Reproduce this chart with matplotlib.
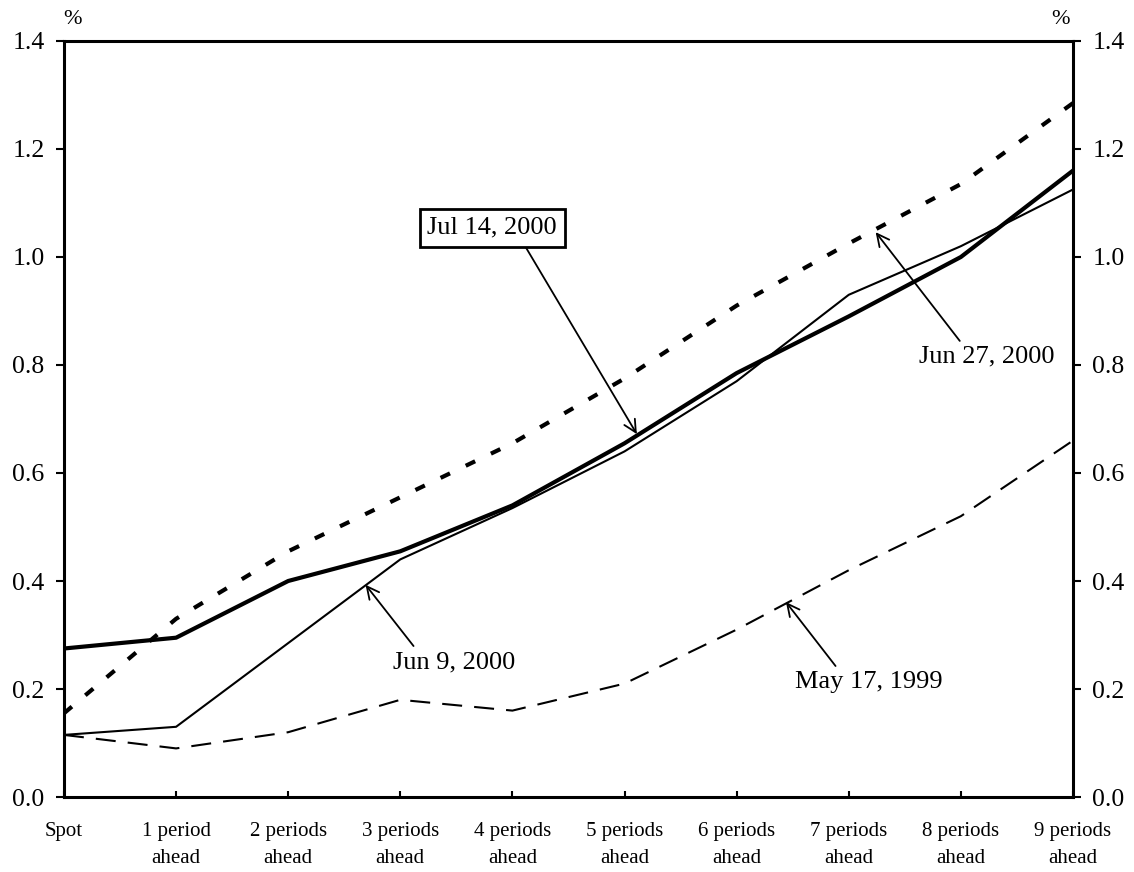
import matplotlib
matplotlib.use("Agg")
import matplotlib.pyplot as plt

plt.rcParams['font.family'] = ['Liberation Serif', 'DejaVu Serif']

# Horizon labels
categories = ["Spot", "1 period\nahead", "2 periods\nahead", "3 periods\nahead",
              "4 periods\nahead", "5 periods\nahead", "6 periods\nahead",
              "7 periods\nahead", "8 periods\nahead", "9 periods\nahead"]

# Implied rates by horizon (%)
jul14_2000 = [0.275, 0.295, 0.40, 0.455, 0.54, 0.655, 0.785, 0.89, 1.00, 1.16]
jun27_2000 = [0.155, 0.33, 0.455, 0.555, 0.655, 0.775, 0.91, 1.025, 1.135, 1.285]
jun9_2000 = [0.115, 0.13, 0.285, 0.44, 0.535, 0.64, 0.77, 0.93, 1.02, 1.125]
may17_1999 = [0.115, 0.09, 0.12, 0.18, 0.16, 0.21, 0.31, 0.42, 0.52, 0.66]

y_ticks = [0.0, 0.2, 0.4, 0.6, 0.8, 1.0, 1.2, 1.4]

fig = plt.figure(figsize=(11.34, 8.72), dpi=100)
ax = fig.add_axes([0.0564, 0.086, 0.8898, 0.867])

x = list(range(len(categories)))

ax.plot(x, may17_1999, color="black", lw=1.5, linestyle=(0, (9.6, 5.8)))
ax.plot(x, jun9_2000, color="black", lw=1.5)
ax.plot(x, jun27_2000, color="black", lw=3.0, linestyle=(0, (2.5, 4.2)))
ax.plot(x, jul14_2000, color="black", lw=3.0)

ax.set_xlim(0, len(categories) - 1)
ax.set_ylim(0, 1.4)
ax.set_yticks(y_ticks)
ax.set_yticklabels([f"{v:.1f}" for v in y_ticks])
ax.set_xticks(x)
ax.set_xticklabels(categories, fontsize=15, linespacing=1.6)

ax.tick_params(axis="y", which="both", direction="out", length=6, width=1.5,
               labelsize=18.5, pad=8, left=True, right=True,
               labelleft=True, labelright=True)
ax.tick_params(axis="x", direction="in", length=4.5, width=1.5, pad=18)

for side in ["left", "right", "top", "bottom"]:
    ax.spines[side].set_linewidth(2.2)
    ax.spines[side].set_color("black")

# Unit markers above each vertical axis
fig.text(73 / 1134, 1 - 20 / 872, "%", fontsize=16, ha="center", va="center")
fig.text(1061 / 1134, 1 - 20 / 872, "%", fontsize=16, ha="center", va="center")

arrow = dict(arrowstyle="->", color="black", lw=1.3,
             mutation_scale=22, shrinkA=2, shrinkB=0)

ax.annotate("Jul 14, 2000", xy=(5.11, 0.672), xytext=(3.82, 1.054),
            fontsize=19, ha="center", va="center",
            bbox=dict(boxstyle="square,pad=0.3", fc="white", ec="black", lw=2),
            arrowprops=dict(arrow, shrinkA=0, relpos=(0.72, 0.0)))
ax.annotate("Jun 27, 2000", xy=(7.24, 1.046), xytext=(8.23, 0.815),
            fontsize=19, ha="center", va="center",
            arrowprops=dict(arrow, relpos=(0.33, 1.0)))
ax.annotate("Jun 9, 2000", xy=(2.69, 0.393), xytext=(3.48, 0.25),
            fontsize=19, ha="center", va="center",
            arrowprops=dict(arrow, relpos=(0.2, 1.0)))
ax.annotate("May 17, 1999", xy=(6.44, 0.361), xytext=(7.18, 0.213),
            fontsize=19, ha="center", va="center",
            arrowprops=dict(arrow, relpos=(0.3, 1.0)))

fig.savefig("out.png", dpi=100, facecolor="white")
